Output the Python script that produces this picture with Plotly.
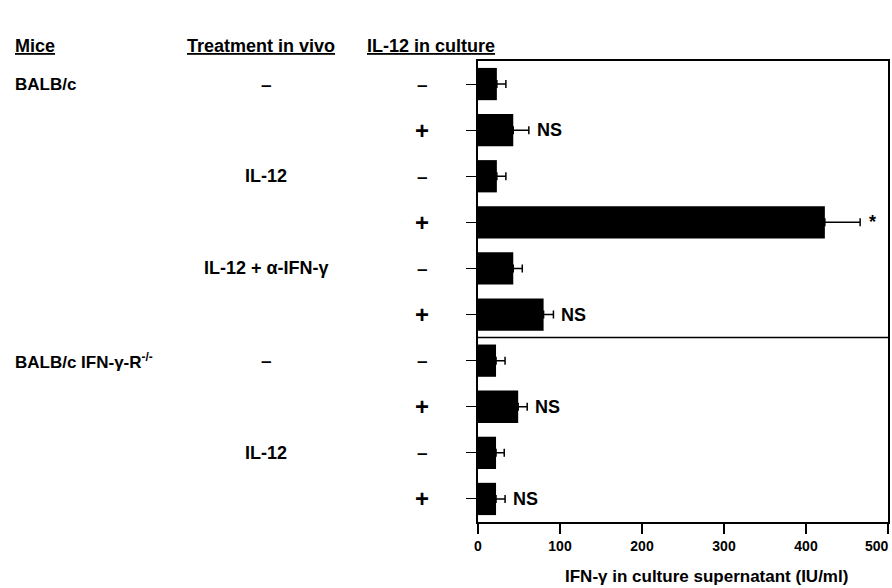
import plotly.graph_objects as go

# Data
rows = list(range(10))
mice = ["BALB/c", "", "", "", "", "", "BALB/c IFN-γ-R<sup>-/-</sup>", "", "", ""]
treatment = ["–", "", "IL-12", "", "IL-12 + α-IFN-γ", "", "–", "", "IL-12", ""]
culture = ["–", "+", "–", "+", "–", "+", "–", "+", "–", "+"]
values = [23, 43, 23, 423, 43, 80, 22, 49, 22, 22]
err_top = [34, 62, 34, 466, 54, 92, 33, 60, 32, 33]
marks = ["", "NS", "", "*", "", "NS", "", "NS", "", "NS"]
x_ticks = [0, 100, 200, 300, 400, 500]

FONT = "Liberation Sans, Arial, sans-serif"
W, H = 892, 588
ML, MR, MT, MB = 478, 4, 61, 66
PW = W - ML - MR
PH = H - MT - MB

def px(p):
    return (p - ML) / PW

def py(p):
    return 1 - (p - MT) / PH

fig = go.Figure()
fig.add_trace(go.Bar(
    x=values, y=rows, orientation="h", width=0.7,
    marker=dict(color="black", line=dict(width=0)),
    error_x=dict(type="data", symmetric=False,
                 array=[e - v for e, v in zip(err_top, values)],
                 arrayminus=[0] * len(values),
                 color="black", thickness=1.5, width=4),
    showlegend=False, hoverinfo="x",
))

def sym_size(s):
    if s == "+":
        return 24
    if s == "–":
        return 19
    return 18

ann = []
for i in rows:
    if mice[i]:
        ann.append(dict(x=px(13), y=i, xref="paper", yref="y", text=f"<b>{mice[i]}</b>",
                        showarrow=False, xanchor="left", font=dict(size=17)))
    if treatment[i]:
        ann.append(dict(x=px(266), y=i, xref="paper", yref="y", text=f"<b>{treatment[i]}</b>",
                        showarrow=False, xanchor="center", font=dict(size=sym_size(treatment[i]))))
    ann.append(dict(x=px(422), y=i, xref="paper", yref="y", text=f"<b>{culture[i]}</b>",
                    showarrow=False, xanchor="center", font=dict(size=sym_size(culture[i]))))
    if marks[i]:
        ann.append(dict(x=err_top[i], y=i, xref="x", yref="y", text=f"<b>{marks[i]}</b>",
                        showarrow=False, xanchor="left", xshift=6 if marks[i] == "NS" else 7,
                        font=dict(size=18)))

headers = [("Mice", 13), ("Treatment in vivo", 185), ("IL-12 in culture", 365)]
for t, xpos in headers:
    ann.append(dict(x=px(xpos), y=py(46), xref="paper", yref="paper", text=f"<b><u>{t}</u></b>",
                    showarrow=False, xanchor="left", yanchor="middle", font=dict(size=18)))

ann.append(dict(x=px(706), y=py(576), xref="paper", yref="paper",
                text="<b>IFN-γ in culture supernatant (IU/ml)</b>", showarrow=False,
                xanchor="center", yanchor="middle", font=dict(size=17)))

# last tick label kept inside the page edge
ann.append(dict(x=px(891), y=py(546), xref="paper", yref="paper",
                text=f"<b>{x_ticks[-1]}</b>", showarrow=False,
                xanchor="right", yanchor="middle", font=dict(size=14)))

tick_text = [f"<b>{v}</b>" for v in x_ticks[:-1]] + [""]

fig.update_layout(
    width=W, height=H,
    margin=dict(l=ML, r=MR, t=MT, b=MB, autoexpand=False),
    plot_bgcolor="white", paper_bgcolor="white",
    font=dict(family=FONT, color="black", size=14),
    annotations=ann,
    shapes=[dict(type="line", xref="paper", yref="y", x0=0, x1=1, y0=5.5, y1=5.5,
                 line=dict(color="black", width=1.5))],
    xaxis=dict(range=[0, 500], tickvals=x_ticks, ticktext=tick_text,
               ticks="outside", ticklen=10, tickwidth=1.5, tickcolor="black",
               showline=True, linecolor="black", linewidth=1.5, mirror=True,
               showgrid=False, zeroline=False, automargin=False,
               ticklabeloverflow="allow",
               tickfont=dict(size=14, family=FONT)),
    yaxis=dict(range=[9.5, -0.5], tickvals=rows, showticklabels=False,
               ticks="outside", ticklen=10, tickwidth=1, tickcolor="black",
               showline=True, linecolor="black", linewidth=1.5, mirror=True,
               showgrid=False, zeroline=False, automargin=False),
)

fig.write_html("out.html", config={"displayModeBar": False},
               post_script="document.body.style.margin='0';")
